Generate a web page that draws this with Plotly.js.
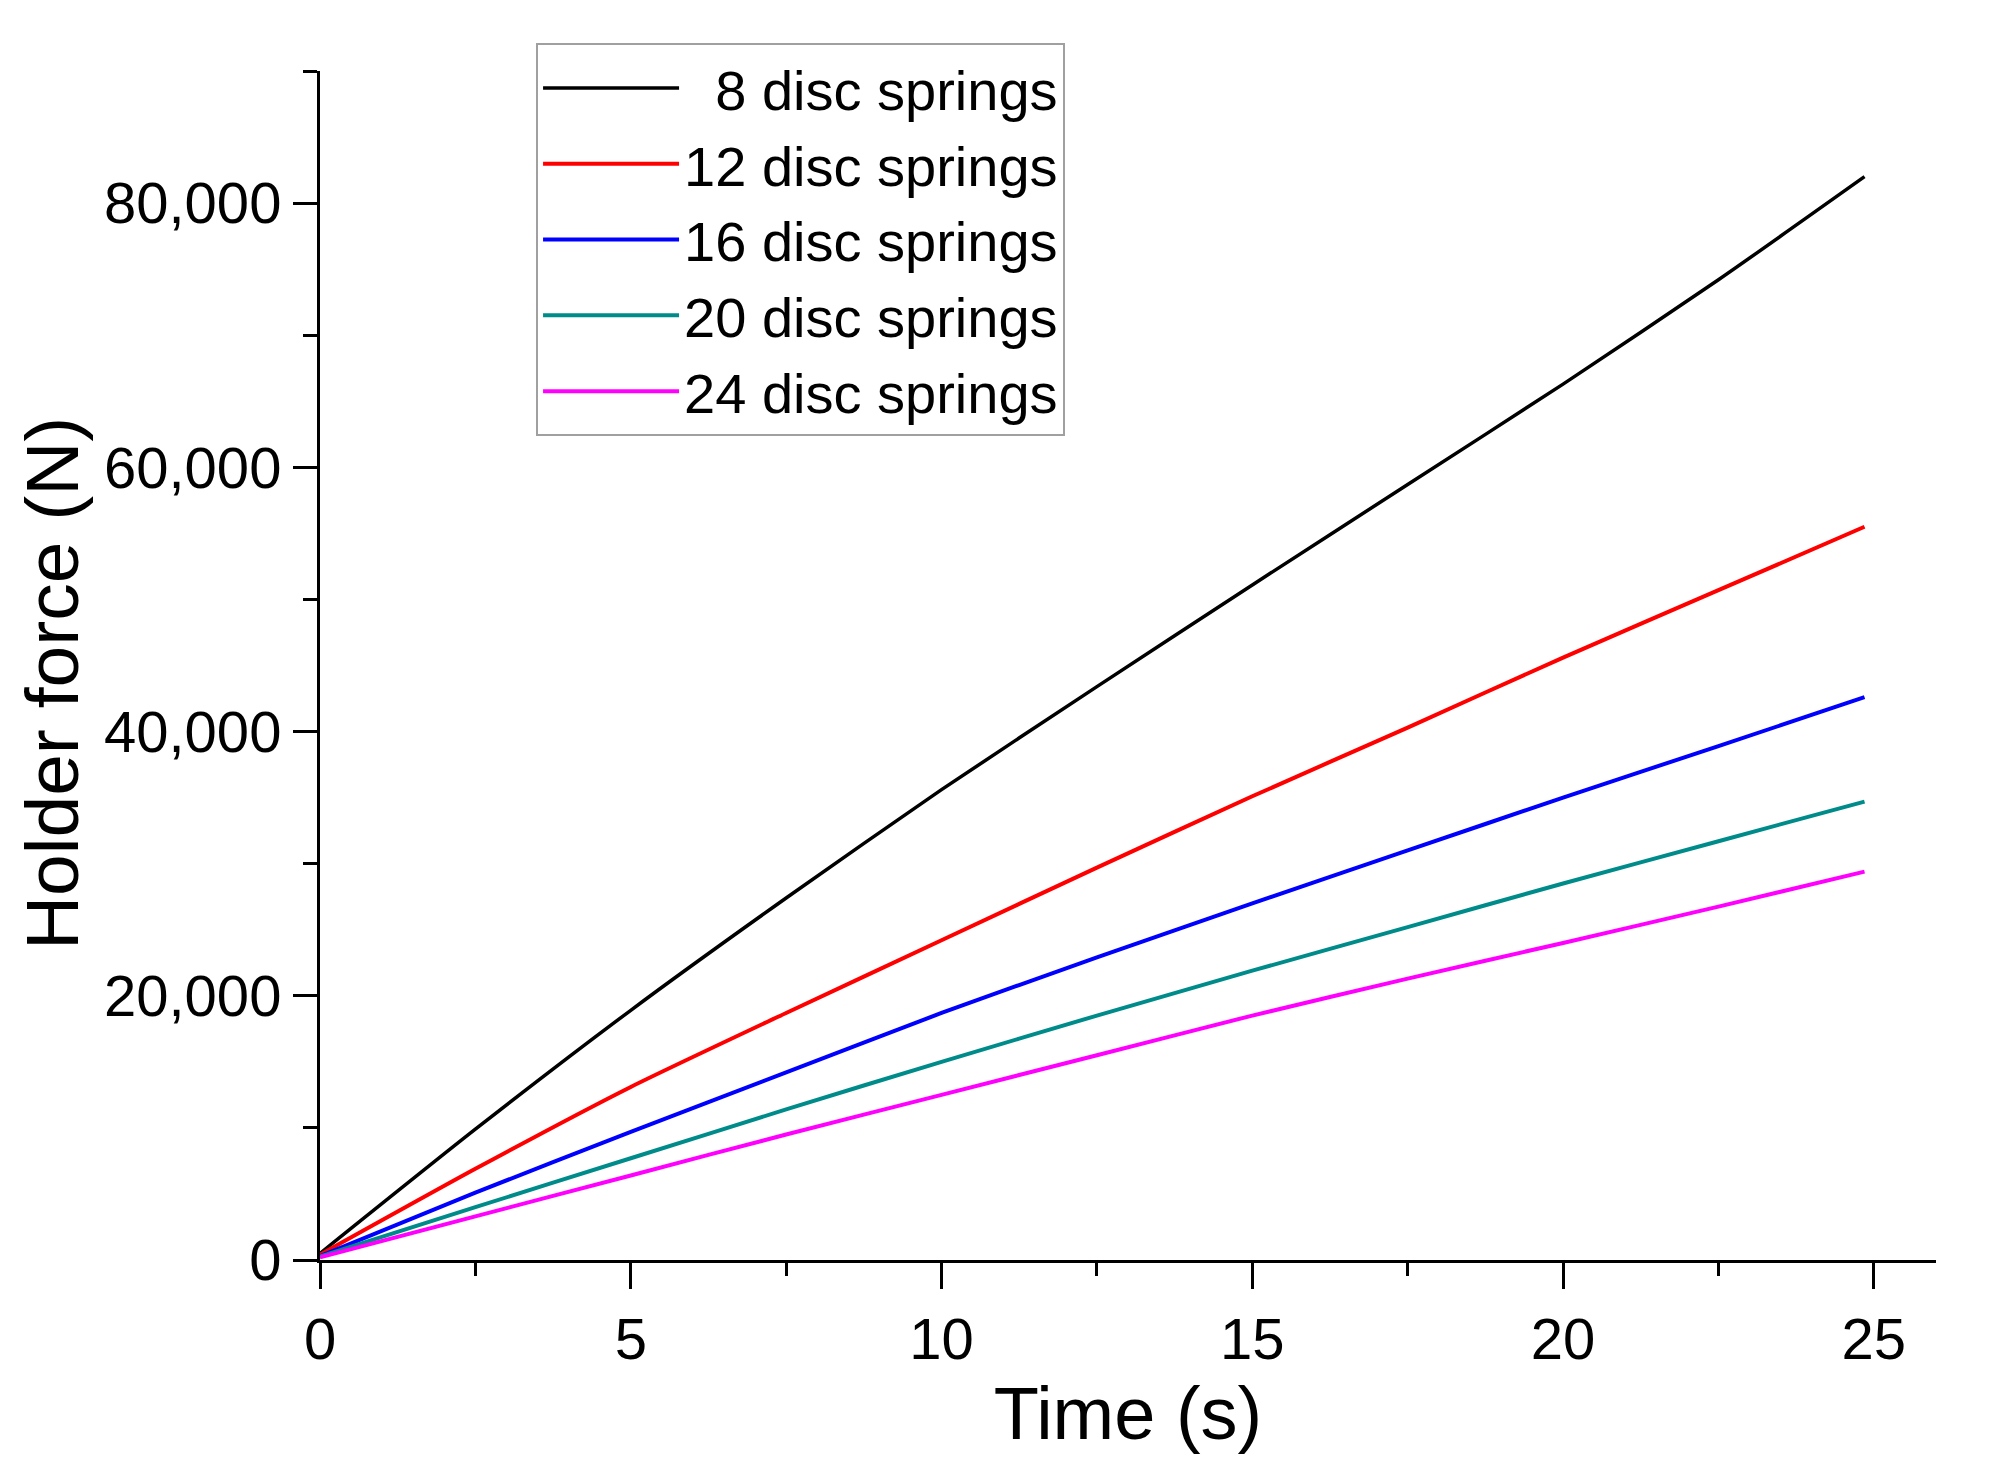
<!DOCTYPE html>
<html>
<head>
<meta charset="utf-8">
<script src="https://cdn.plot.ly/plotly-3.0.1.min.js"></script>
<style>
  html, body { margin: 0; padding: 0; background: #fff; }
  #chart { width: 2015px; height: 1484px; }
</style>
</head>
<body>
<div id="chart"></div>
<script>
// ------------------------------
// Time axis (s)
// ------------------------------
var time = [0, 2.5, 5, 7.5, 10, 12.5, 15, 17.5, 20, 22.5, 24.85];

// ------------------------------
// Holder force (N) per spring count
// ------------------------------
var force8  = [500, 9900, 18900, 27400, 35600, 43400, 51100, 58700, 66300, 74200, 82000];
var force12 = [400, 6900, 13100, 18700, 24200, 29700, 35100, 40300, 45600, 50700, 55500];
var force16 = [300, 5100, 9700, 14200, 18700, 22900, 27000, 31000, 35000, 38900, 42600];
var force20 = [250, 4000, 7700, 11400, 15000, 18500, 21900, 25200, 28500, 31700, 34700];
var force24 = [200, 3300, 6400, 9500, 12500, 15500, 18500, 21300, 24000, 26750, 29400];

var names = ['\u00a0\u00a08 disc springs', '12 disc springs', '16 disc springs',
             '20 disc springs', '24 disc springs'];
var colors = ['#000000', '#ff0000', '#0000ff', '#008b8b', '#ff00ff'];
var series = [force8, force12, force16, force20, force24];

var data = series.map(function (ys, i) {
  return {
    x: time,
    y: ys,
    type: 'scatter',
    mode: 'lines',
    name: names[i],
    line: { color: colors[i], width: i === 0 ? 3.5 : 4, shape: 'spline', smoothing: 0.6 }
  };
});

var font = 'Arial, "Liberation Sans", sans-serif';

var layout = {
  width: 2015,
  height: 1484,
  margin: { l: 320, r: 79, t: 71, b: 224 },
  paper_bgcolor: '#ffffff',
  plot_bgcolor: '#ffffff',
  font: { family: font, color: '#000', size: 58 },
  showlegend: true,
  legend: {
    x: 0.1337, y: 1.0235, xanchor: 'left', yanchor: 'top',
    bgcolor: '#ffffff', bordercolor: '#a0a0a0', borderwidth: 2,
    font: { family: font, size: 56, color: '#000' },
    itemwidth: 136,
    traceorder: 'normal'
  },
  xaxis: {
    range: [0, 26],
    dtick: 5, tick0: 0,
    showgrid: false, zeroline: false,
    showline: true, linecolor: '#000', linewidth: 3,
    ticks: 'outside', ticklen: 26, tickwidth: 3, tickcolor: '#000',
    minor: { dtick: 2.5, ticks: 'outside', ticklen: 13, tickwidth: 3, tickcolor: '#000' },
    tickfont: { family: font, size: 58 },
    title: { text: 'Time (s)', font: { family: font, size: 74 }, standoff: 18 }
  },
  yaxis: {
    range: [0, 90000],
    dtick: 20000, tick0: 0,
    tickformat: ',d',
    showgrid: false, zeroline: false,
    showline: true, linecolor: '#000', linewidth: 3,
    ticks: 'outside', ticklen: 24, tickwidth: 3, tickcolor: '#000',
    minor: { dtick: 10000, ticks: 'outside', ticklen: 14, tickwidth: 3, tickcolor: '#000' },
    tickfont: { family: font, size: 58 }
  },
  annotations: [{
    text: 'Holder force (N)',
    textangle: -90,
    xref: 'paper', yref: 'paper',
    x: -0.1658, y: 0.4844,
    xanchor: 'center', yanchor: 'middle',
    showarrow: false,
    font: { family: font, size: 75, color: '#000' }
  }]
};

Plotly.newPlot('chart', data, layout, { displayModeBar: false, staticPlot: true });
</script>
</body>
</html>
